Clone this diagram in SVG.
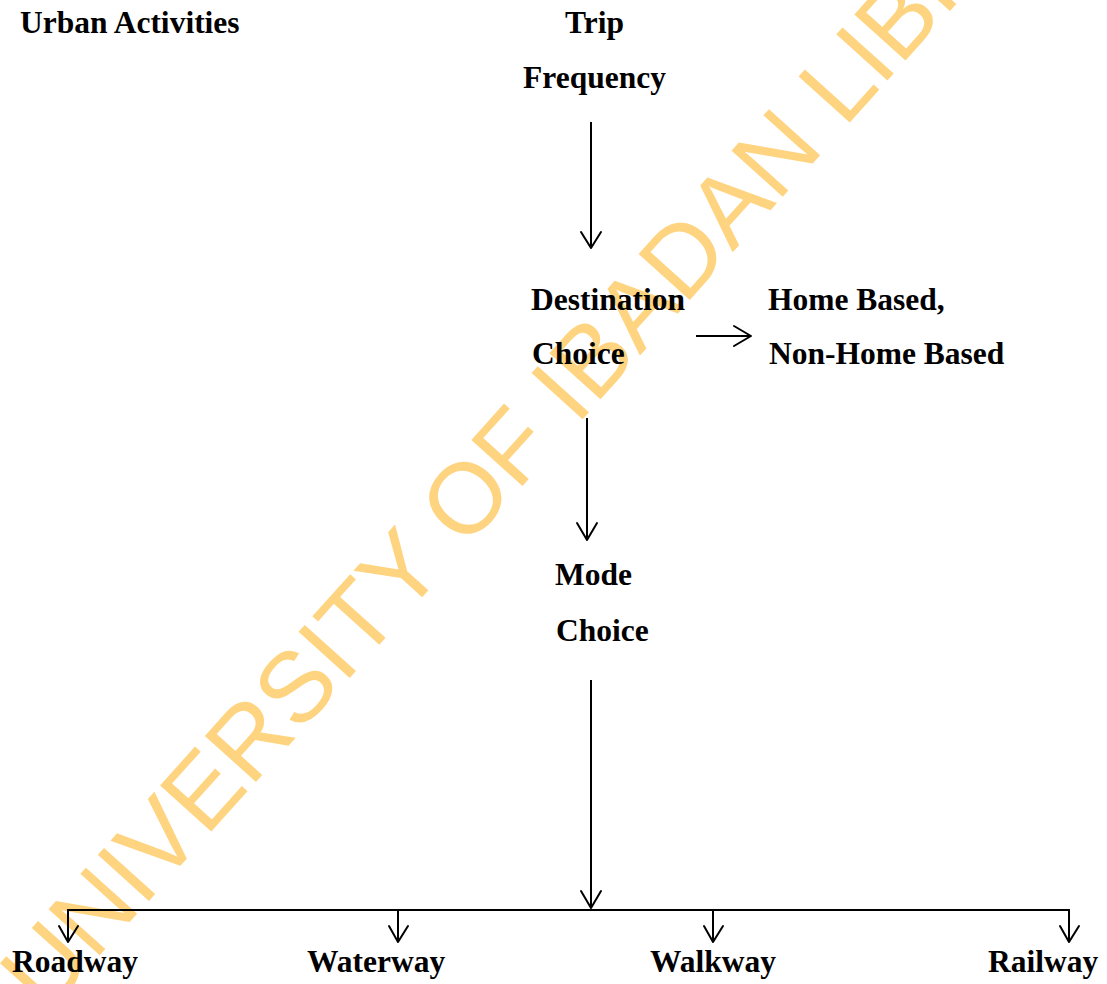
<svg xmlns="http://www.w3.org/2000/svg" width="1107" height="984" viewBox="0 0 1107 984">
<style>
.t{font-family:"Liberation Serif","Times New Roman",serif;font-weight:bold;font-size:31.5px;fill:#000}
.c{stroke:#000;stroke-width:2;fill:none}
.h{stroke:#000;stroke-width:2;fill:none;stroke-linecap:round;stroke-linejoin:round}
.wm{font-family:"Liberation Sans",Arial,sans-serif;font-size:100px;fill:#FED481}
</style>
<rect width="1107" height="984" fill="#fff"/>
<text class="wm" transform="translate(46,1015) rotate(-48)">UNIVERSITY OF IBADAN LIBRARY</text>
<g id="urban-activities"><text class="t" x="20" y="33">Urban Activities</text></g>
<g id="trip-frequency"><text class="t" x="565" y="33">Trip</text><text class="t" x="523" y="88">Frequency</text></g>
<g id="destination-choice"><text class="t" x="531" y="310">Destination</text><text class="t" x="532" y="364">Choice</text></g>
<g id="home-based"><text class="t" x="768" y="310">Home Based,</text><text class="t" x="769" y="364">Non-Home Based</text></g>
<g id="mode-choice"><text class="t" x="555" y="585">Mode</text><text class="t" x="556" y="641">Choice</text></g>
<g id="roadway"><text class="t" x="12" y="972">Roadway</text></g>
<g id="waterway"><text class="t" x="307" y="972">Waterway</text></g>
<g id="walkway"><text class="t" x="650" y="972">Walkway</text></g>
<g id="railway"><text class="t" x="988" y="972">Railway</text></g>
<g id="connectors">
<line class="c" x1="591" y1="122" x2="591" y2="248"/>
<polyline class="h" points="581,232 591,248 601,232"/>
<line class="c" x1="696" y1="336" x2="751" y2="336"/>
<polyline class="h" points="734,326 751,336 734,346"/>
<line class="c" x1="587" y1="418" x2="587" y2="540"/>
<polyline class="h" points="577,523 587,540 597,523"/>
<line class="c" x1="591" y1="680" x2="591" y2="908"/>
<polyline class="h" points="581,891 591,908 601,891"/>
<line class="c" x1="67" y1="910" x2="1070" y2="910"/>
<line class="c" x1="68" y1="910" x2="68" y2="942"/>
<polyline class="h" points="59,926 68,942 78,926"/>
<line class="c" x1="398" y1="910" x2="398" y2="942"/>
<polyline class="h" points="389,926 398,942 408,926"/>
<line class="c" x1="713" y1="910" x2="713" y2="942"/>
<polyline class="h" points="704,926 713,942 723,926"/>
<line class="c" x1="1069" y1="910" x2="1069" y2="942"/>
<polyline class="h" points="1060,926 1069,942 1079,926"/>
</g>
</svg>
